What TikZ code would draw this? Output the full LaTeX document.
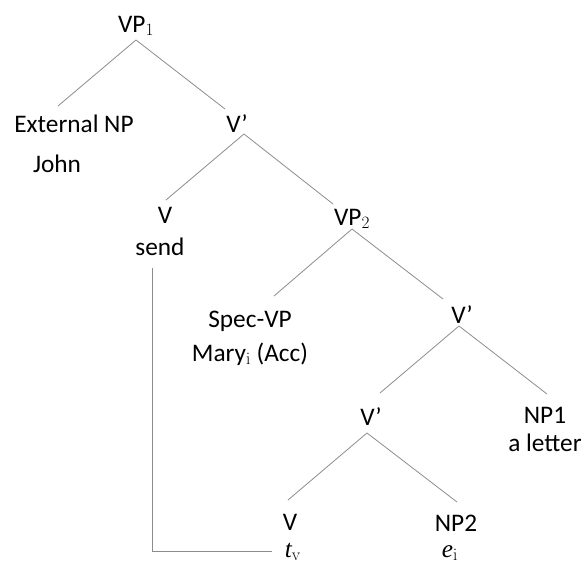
\documentclass[tikz,border=0pt]{standalone}
\usepackage[no-math]{fontspec}
\setmainfont{Carlito}
\newfontfamily\libserif{Liberation Serif}
\usetikzlibrary{calc}
\definecolor{linegray}{RGB}{140,140,140}
\begin{document}
\begin{tikzpicture}[x=1pt,y=-1pt,
  lbl/.style={anchor=base,inner sep=0pt,font=\fontsize{25.3}{30}\selectfont,text=black},
  branch/.style={draw=linegray,line width=0.8pt}]
\useasboundingbox (0,0) rectangle (587,565);
% nodes (positions are baseline centres)
\node[lbl] (vp1)   at (136,32)  {VP$_1$};
\node[lbl] (ext)   at (74,132)  {External NP};
\node[lbl] (john)  at (57,172)  {John};
\node[lbl] (vbar1) at (237,132) {V’};
\node[lbl] (v1)    at (165,223) {V};
\node[lbl] (send)  at (160,255) {send};
\node[lbl] (vp2)   at (352,225) {VP$_2$};
\node[lbl] (spec)  at (250,327) {Spec-VP};
\node[lbl] (mary)  at (250,361) {Mary$_{\mathrm{i}}$ (Acc)};
\node[lbl] (vbar2) at (462,323) {V’};
\node[lbl] (vbar3) at (371,425) {V’};
\node[lbl] (np1)   at (545,423) {NP1};
\node[lbl] (letter) at (545,451) {a letter};
\node[lbl] (v2)    at (290,530) {V};
\node[lbl] (tv)    at (293,557) {{\libserif\itshape t}$_{\mathrm{v}}$};
\node[lbl] (np2)   at (456,531) {NP2};
\node[lbl] (ei)    at (450,557) {{\libserif\itshape e}$_{\mathrm{i}}$};
% branches
\draw[branch] ($(vp1.base)+(0,8)$) -- ($(ext.base)+(-16,-26)$);
\draw[branch] ($(vp1.base)+(0,8)$) -- ($(vbar1.base)+(-12,-23)$);
\draw[branch] ($(vbar1.base)+(7,2)$) -- ($(v1.base)+(1,-23)$);
\draw[branch] ($(vbar1.base)+(7,2)$) -- ($(vp2.base)+(-19,-21)$);
\draw[branch] ($(vp2.base)+(0,4)$) -- ($(spec.base)+(24,-31)$);
\draw[branch] ($(vp2.base)+(0,4)$) -- ($(vbar2.base)+(-19,-24)$);
\draw[branch] ($(vbar2.base)+(-3,3)$) -- ($(vbar3.base)+(9,-32)$);
\draw[branch] ($(vbar2.base)+(-3,3)$) -- ($(np1.base)+(2,-29)$);
\draw[branch] ($(vbar3.base)+(-4,8)$) -- ($(v2.base)+(-2,-30)$);
\draw[branch] ($(vbar3.base)+(-4,8)$) -- ($(np2.base)+(1,-29)$);
% movement line
\draw[branch] ($(send.base)+(-8,13)$) |- ($(tv.base)+(-21,-6)$);
\end{tikzpicture}
\end{document}
